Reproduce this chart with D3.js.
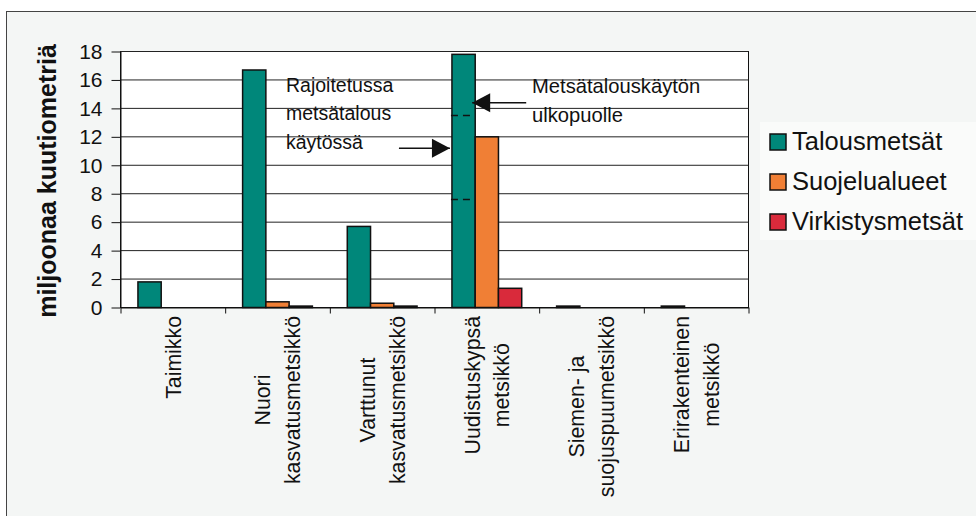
<!DOCTYPE html>
<html>
<head>
<meta charset="utf-8">
<script src="https://cdn.jsdelivr.net/npm/d3@7"></script>
<style>
  body { margin: 0; background: #fff; }
  svg { display: block; font-family: "Liberation Sans", Arial, sans-serif; }
</style>
</head>
<body>
<div class="canvas"></div>
<script>
// data
const categories = [
  ['Taimikko'],
  ['Nuori', 'kasvatusmetsikkö'],
  ['Varttunut', 'kasvatusmetsikkö'],
  ['Uudistuskypsä', 'metsikkö'],
  ['Siemen- ja', 'suojuspuumetsikkö'],
  ['Erirakenteinen', 'metsikkö']
];
const seriesNames = ['Talousmetsät', 'Suojelualueet', 'Virkistysmetsät'];
const talousmetsat = [1.8, 16.7, 5.7, 17.8, 0.1, 0.1];
const suojelualueet = [0, 0.4, 0.3, 12.0, 0, 0];
const virkistysmetsat = [0, 0.1, 0.1, 1.35, 0, 0];
const yTicks = [0, 2, 4, 6, 8, 10, 12, 14, 16, 18];
const colors = ['#00877a', '#f07f35', '#d92a3b'];

const seriesValues = [talousmetsat, suojelualueet, virkistysmetsat];
const catIds = categories.map((c, i) => i);

const svg = d3.select('.canvas').append('svg')
    .attr('width', 976)
    .attr('height', 516);

// outer frame
svg.append('rect')
    .attr('x', 6.5).attr('y', 11.5)
    .attr('width', 1000).attr('height', 600)
    .attr('fill', '#f4f6f5')
    .attr('stroke', '#444');

// legend background
svg.append('rect')
    .attr('x', 760).attr('y', 122)
    .attr('width', 230).attr('height', 118)
    .attr('fill', '#fafbfa');

const x0 = d3.scaleBand().domain(catIds).range([120.5, 748.5]);
const x1 = d3.scaleBand().domain(seriesNames).range([0, x0.bandwidth()]).paddingOuter(0.75);
const y = d3.scaleLinear().domain([0, 18]).range([307.5, 51.5]);
const xIdx = d3.scaleLinear().domain([0, categories.length]).range(x0.range());

// plot area
svg.append('rect')
    .attr('x', x0.range()[0]).attr('y', y(18))
    .attr('width', x0.range()[1] - x0.range()[0])
    .attr('height', y(0) - y(18))
    .attr('fill', '#fff')
    .attr('stroke', '#111');

// gridlines
svg.append('g').selectAll('line')
    .data(yTicks.slice(1))
    .join('line')
    .attr('x1', x0.range()[0]).attr('x2', x0.range()[1])
    .attr('y1', d => y(d)).attr('y2', d => y(d))
    .attr('stroke', '#222')
    .attr('stroke-width', 1);

// bars
const groups = svg.append('g').selectAll('g')
    .data(catIds)
    .join('g')
    .attr('transform', d => `translate(${x0(d)},0)`);

groups.selectAll('rect')
    .data(i => seriesNames.map((s, k) => ({ s, k, v: seriesValues[k][i] })).filter(d => d.v > 0))
    .join('rect')
    .attr('x', d => x1(d.s))
    .attr('y', d => y(d.v))
    .attr('width', x1.bandwidth())
    .attr('height', d => y(0) - y(d.v))
    .attr('fill', d => colors[d.k])
    .attr('stroke', '#111')
    .attr('stroke-width', 1.5);

// y axis
const yAxis = svg.append('g')
    .attr('transform', `translate(${x0.range()[0]},0)`)
    .call(d3.axisLeft(y).tickValues(yTicks).tickSize(9).tickSizeOuter(0).tickPadding(9));
yAxis.selectAll('text')
    .style('font-family', '"Liberation Sans", Arial, sans-serif')
    .attr('font-size', 21)
    .attr('fill', '#111');
yAxis.selectAll('line, path').attr('stroke', '#111');

// x axis ticks at category boundaries
const xAxis = svg.append('g')
    .attr('transform', `translate(0,${y(0)})`)
    .call(d3.axisBottom(xIdx).tickValues(d3.range(categories.length + 1)).tickSize(6).tickSizeOuter(0).tickFormat(''));
xAxis.selectAll('line, path').attr('stroke', '#111');

// category labels, rotated
const labelTop = 316;
const lineGap = 29.5;
const labels = svg.append('g').selectAll('g')
    .data(catIds)
    .join('g');
labels.each(function (i) {
    const g = d3.select(this);
    const lines = categories[i];
    const texts = g.selectAll('text')
        .data(lines)
        .join('text')
        .attr('text-anchor', 'middle')
        .attr('font-size', 21.3)
        .attr('fill', '#111')
        .attr('y', (d, j) => (j - (lines.length - 1) / 2) * lineGap)
        .attr('dy', '0.36em')
        .text(d => d);
    let maxLen = 0;
    texts.each(function () { maxLen = Math.max(maxLen, this.getComputedTextLength()); });
    texts.attr('x', -maxLen / 2);
    g.attr('transform', `translate(${x0(i) + x0.bandwidth() / 2},${labelTop}) rotate(-90)`);
});

// y axis title
svg.append('text')
    .attr('transform', `translate(56,181) rotate(-90)`)
    .attr('text-anchor', 'middle')
    .attr('font-size', 25)
    .attr('font-weight', 'bold')
    .attr('fill', '#111')
    .text('miljoonaa kuutiometriä');

// annotations on the Uudistuskypsä bar
const ui = 3;
const barL = x0(ui) + x1(seriesNames[0]);
const barR = barL + x1.bandwidth();
const dashLevels = [13.5, 7.6];
svg.append('g').selectAll('line')
    .data(dashLevels)
    .join('line')
    .attr('x1', barL - 1).attr('x2', barR - 1)
    .attr('y1', d => y(d)).attr('y2', d => y(d))
    .attr('stroke', '#111')
    .attr('stroke-width', 1.5)
    .attr('stroke-dasharray', '7,5');

function arrow(tipX, yv, dir, len) {
    const ty = y(yv);
    svg.append('line')
        .attr('x1', tipX).attr('x2', tipX - dir * len)
        .attr('y1', ty).attr('y2', ty)
        .attr('stroke', '#111').attr('stroke-width', 1.5);
    svg.append('path')
        .attr('d', `M${tipX},${ty} L${tipX - dir * 18},${ty - 9.5} L${tipX - dir * 18},${ty + 9.5} Z`)
        .attr('fill', '#111');
}
arrow(barR - 3, 14.4, -1, 54);
arrow(barL - 2, 11.2, 1, 51);

const note1 = ['Rajoitetussa', 'metsätalous', 'käytössä'];
const note2 = ['Metsätalouskäytön', 'ulkopuolle'];
svg.append('g').selectAll('text')
    .data(note1)
    .join('text')
    .attr('x', 286)
    .attr('y', (d, j) => 91.5 + j * 28.5)
    .attr('font-size', 19.5)
    .attr('fill', '#111')
    .text(d => d);
svg.append('g').selectAll('text')
    .data(note2)
    .join('text')
    .attr('x', 532)
    .attr('y', (d, j) => 93 + j * 28.5)
    .attr('font-size', 20.2)
    .attr('fill', '#111')
    .text(d => d);

// legend
const legend = svg.append('g').selectAll('g')
    .data(seriesNames)
    .join('g')
    .attr('transform', (d, k) => `translate(770,${134 + k * 40})`);
legend.append('rect')
    .attr('width', 16).attr('height', 16)
    .attr('fill', (d, k) => colors[k])
    .attr('stroke', '#111')
    .attr('stroke-width', 1.5);
legend.append('text')
    .attr('x', 22).attr('y', 16)
    .attr('font-size', 25.5)
    .attr('fill', '#111')
    .text(d => d);
</script>
</body>
</html>
